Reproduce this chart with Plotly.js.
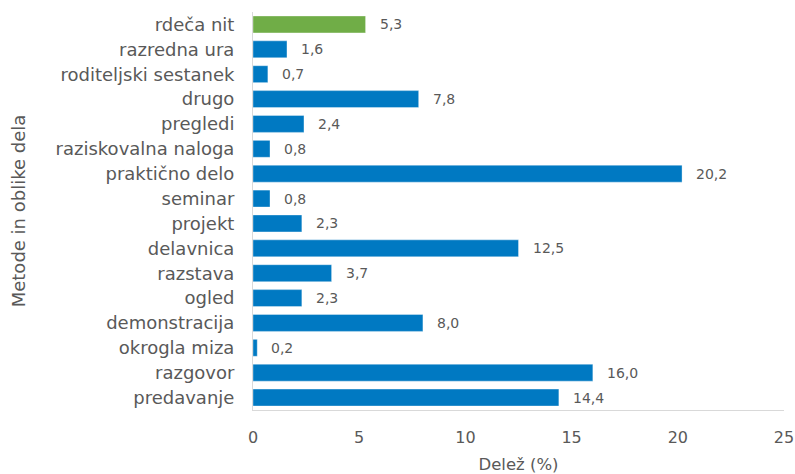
<!DOCTYPE html>
<html><head><meta charset="utf-8">
<script src="https://cdn.plot.ly/plotly-3.0.1.min.js"></script>
<style>body{margin:0;background:#fff}#c{width:795px;height:474px}</style>
</head><body><div id="c"></div>
<script>
const categories = ["predavanje","razgovor","okrogla miza","demonstracija","ogled","razstava","delavnica","projekt","seminar","praktično delo","raziskovalna naloga","pregledi","drugo","roditeljski sestanek","razredna ura","rdeča nit"];
const values = [14.4,16.0,0.2,8.0,2.3,3.7,12.5,2.3,0.8,20.2,0.8,2.4,7.8,0.7,1.6,5.3];
const highlight = "rdeča nit";
const tickVals = [0,5,10,15,20,25];

const FONT = "'DejaVu Sans', sans-serif";
const blue = "#0079C2", green = "#70AD47";
const colors = categories.map(c => c === highlight ? green : blue);

const trace = {
  type: "bar", orientation: "h",
  x: values, y: categories,
  marker: {color: colors, line: {color: "rgba(255,255,255,0.35)", width: 1}},
  hoverinfo: "none"
};
const annotations = categories.map((c,i) => ({
  x: values[i], y: c, xref: "x", yref: "y",
  text: values[i].toFixed(1).replace(".", ","),
  showarrow: false, xanchor: "left", xshift: 12,
  font: {family: FONT, size: 14, color: "#595959"}
}));
const layout = {
  width: 795, height: 474,
  margin: {l: 253, r: 11, t: 11.5, b: 63.5},
  paper_bgcolor: "#fff", plot_bgcolor: "#fff",
  bargap: 0.32,
  showlegend: false,
  font: {family: FONT, color: "#595959"},
  xaxis: {
    range: [0, 25], tickvals: tickVals, ticktext: tickVals.map(String),
    showgrid: false, zeroline: false, showline: true, linecolor: "#d9d9d9", linewidth: 1,
    ticks: "", ticklabelstandoff: 13,
    tickfont: {family: FONT, size: 16, color: "#595959"},
    title: {text: "Delež (%)", font: {family: FONT, size: 16.5, color: "#595959"}, standoff: 12}
  },
  yaxis: {
    type: "category", categoryorder: "array", categoryarray: categories,
    automargin: true,
    showgrid: false, zeroline: false, showline: true, linecolor: "#d9d9d9", linewidth: 1,
    ticks: "", ticklabelstandoff: 14,
    tickfont: {family: FONT, size: 18, color: "#595959"},
    title: {text: "Metode in oblike dela", font: {family: FONT, size: 18, color: "#595959"}, standoff: 25}
  },
  annotations: annotations
};
Plotly.newPlot("c", [trace], layout, {staticPlot: true, displayModeBar: false});
</script></body></html>
